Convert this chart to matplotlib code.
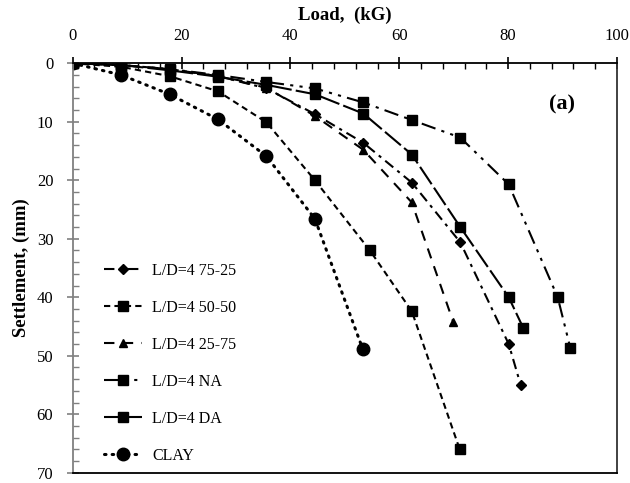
"""
Load-settlement curves, L/D=4 piles vs. clay (panel a).
"""
import matplotlib
matplotlib.use("Agg")
import matplotlib.pyplot as plt
from matplotlib.ticker import MultipleLocator

plt.rcParams["font.family"] = ["Liberation Serif", "DejaVu Serif"]

# ---------------------------------------------------------------------------
# Data
# ---------------------------------------------------------------------------
load_7525 = [0, 8.9, 17.8, 26.7, 35.6, 44.5, 53.4, 62.3, 71.2, 80.1, 82.3]
sett_7525 = [0, 0.3, 1.0, 2.2, 4.3, 8.7, 13.6, 20.4, 30.6, 48.0, 55.0]

load_5050 = [0, 8.9, 17.8, 26.7, 35.6, 44.5, 54.6, 62.3, 71.1]
sett_5050 = [0, 0.6, 2.2, 4.8, 10.1, 20.0, 32.0, 42.4, 66.0]

load_2575 = [0, 8.9, 17.8, 26.7, 35.6, 44.5, 53.4, 62.3, 69.9]
sett_2575 = [0, 0.3, 1.0, 2.2, 4.2, 9.0, 14.8, 23.8, 44.2]

load_na = [0, 8.9, 17.8, 26.7, 35.6, 44.5, 53.4, 62.3, 71.2, 80.1, 89.1, 91.4]
sett_na = [0, 0.3, 1.0, 2.0, 3.2, 4.3, 6.7, 9.7, 12.7, 20.7, 40.0, 48.6]

load_da = [0, 8.9, 17.8, 26.7, 35.6, 44.5, 53.4, 62.3, 71.2, 80.1, 82.8]
sett_da = [0, 0.3, 1.2, 2.3, 3.7, 5.3, 8.6, 15.6, 28.0, 40.0, 45.3]

load_clay = [0, 8.9, 17.8, 26.7, 35.6, 44.5, 53.3]
sett_clay = [0, 2.0, 5.3, 9.6, 15.9, 26.6, 48.9]

labels = ["L/D=4 75-25", "L/D=4 50-50", "L/D=4 25-75",
          "L/D=4 NA", "L/D=4 DA", "CLAY"]

# ---------------------------------------------------------------------------
# Plot
# ---------------------------------------------------------------------------
fig = plt.figure(figsize=(6.3, 4.83), dpi=100)
ax = fig.add_axes([0.1154, 0.0213, 0.864, 0.8477])

lw = 1.5
ax.plot(load_7525, sett_7525, color="black", lw=lw, ls=(0, (5, 2.5, 1.5, 2.5)),
        marker="D", ms=5, label=labels[0])
ax.plot(load_5050, sett_5050, color="black", lw=lw, ls=(0, (3, 2)),
        marker="s", ms=6.5, label=labels[1])
ax.plot(load_2575, sett_2575, color="black", lw=lw, ls=(0, (5, 4)),
        marker="^", ms=6, label=labels[2])
ax.plot(load_na, sett_na, color="black", lw=lw, ls=(0, (7, 3, 1.5, 3, 1.5, 3)),
        marker="s", ms=6.5, label=labels[3])
ax.plot(load_da, sett_da, color="black", lw=lw, ls=(0, (10, 2)),
        marker="s", ms=6.5, label=labels[4])
ax.plot(load_clay, sett_clay, color="black", lw=2.2, ls=(0, (0.5, 2.0)),
        dash_capstyle="round", marker="o", ms=9, label=labels[5])

ax.set_xlim(0, 100)
ax.set_ylim(70, 0)

ax.xaxis.set_ticks_position("top")
ax.xaxis.set_label_position("top")
ax.xaxis.set_major_locator(MultipleLocator(20))
ax.xaxis.set_minor_locator(MultipleLocator(4))
ax.yaxis.set_major_locator(MultipleLocator(10))
ax.yaxis.set_minor_locator(MultipleLocator(2))

ax.tick_params(axis="x", which="major", direction="inout", length=8,
               width=1.2, labelsize=12, pad=10)
ax.tick_params(axis="x", which="minor", direction="in", length=4, width=1)
ax.tick_params(axis="y", which="major", direction="inout", length=8,
               width=1.2, color="#808080", labelsize=12, pad=10)
ax.tick_params(axis="y", which="minor", direction="in", length=4,
               width=1, color="#808080")

for side in ("top", "bottom", "right"):
    ax.spines[side].set_color("black")
    ax.spines[side].set_linewidth(1.3)
ax.spines["left"].set_color("#808080")
ax.spines["left"].set_linewidth(1.3)
ax.spines["right"].set_color("#333333")

ax.set_xlabel("Load,  (kG)", fontsize=13.5, fontweight="bold", labelpad=6)
ax.set_ylabel("Settlement, (mm)", fontsize=13.5, fontweight="bold", labelpad=5)

ax.text(89.8, 7.0, "(a)", fontsize=16, fontweight="bold", ha="center",
        va="center")

ax.legend(loc="upper left", bbox_to_anchor=(0.0575, 0.512), frameon=False,
          fontsize=11.5, handlelength=2.4, handletextpad=0.6, labelspacing=1.31,
          borderpad=0, borderaxespad=0)

fig.savefig("out.png", dpi=100)
